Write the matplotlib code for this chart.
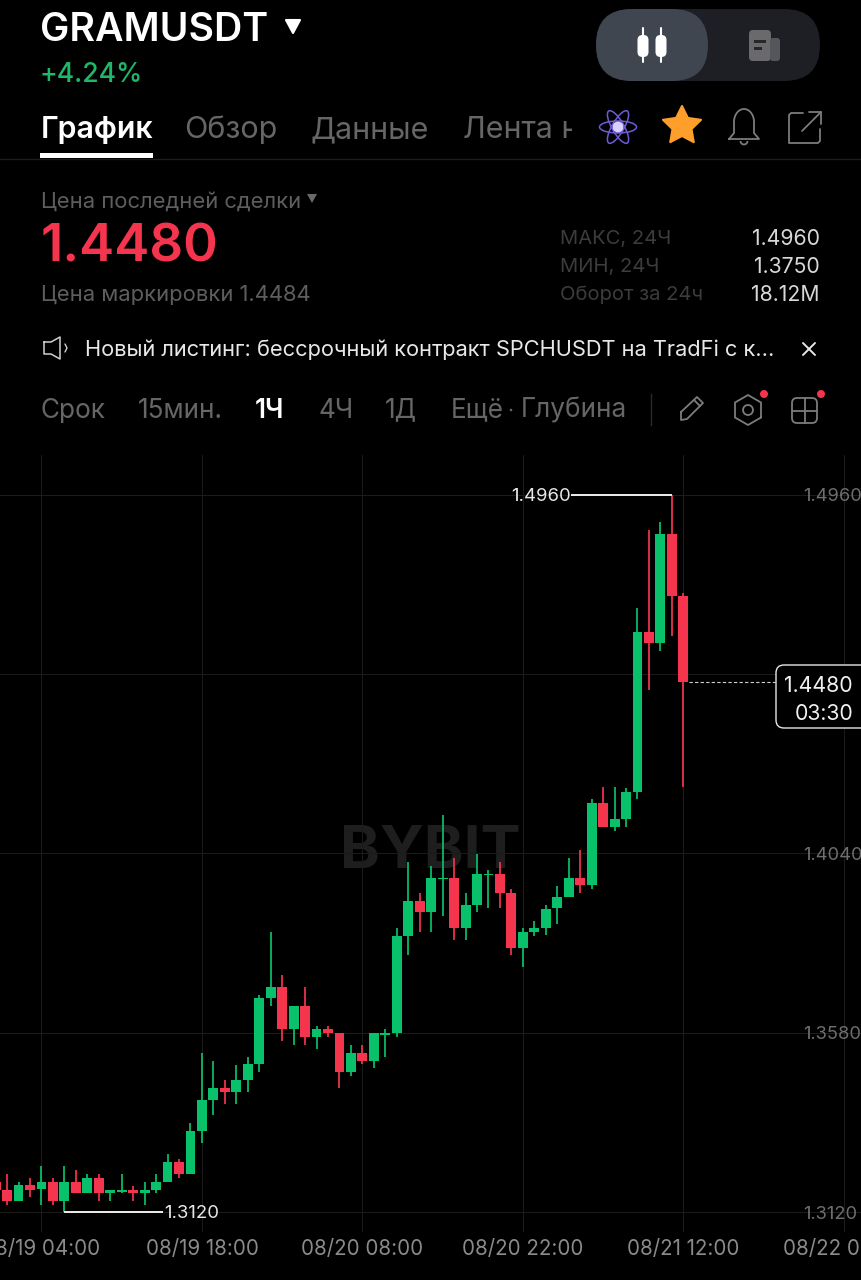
import numpy as np
import matplotlib
matplotlib.use("Agg")
import matplotlib.pyplot as plt
from matplotlib.patches import FancyBboxPatch, Polygon, Ellipse, Circle, Rectangle, Arc

plt.rcParams['font.family'] = ['Inter', 'DejaVu Sans']

# ---------- data ----------
hours = list(range(-4, 57))
opens = [1.3197,1.3176,1.3148,1.3189,1.3179,1.3197,1.3148,1.3197,1.3169,1.3207,1.3169,1.3171,1.3176,1.3169,1.3176,1.3197,1.3248,1.3218,1.3328,1.3407,1.3438,1.3428,1.3459,1.3500,1.3669,1.3697,1.3590,1.3649,1.3569,1.3590,1.3579,1.3479,1.3528,1.3507,1.3574,1.3579,1.3828,1.3918,1.3890,1.3974,1.3977,1.3849,1.3908,1.3985,1.3987,1.3939,1.3797,1.3838,1.3849,1.3900,1.3928,1.3977,1.3959,1.4169,1.4108,1.4128,1.4198,1.4608,1.4580,1.4860,1.4701]
highs = [1.3218,1.3218,1.3197,1.3207,1.3238,1.3207,1.3238,1.3228,1.3218,1.3218,1.3176,1.3218,1.3187,1.3197,1.3218,1.3269,1.3256,1.3348,1.3528,1.3507,1.3459,1.3497,1.3518,1.3677,1.3838,1.3728,1.3649,1.3697,1.3597,1.3597,1.3579,1.3549,1.3549,1.3579,1.3590,1.3849,1.4018,1.3939,1.4008,1.4139,1.4028,1.3939,1.4039,1.3998,1.4018,1.3949,1.3849,1.3867,1.3908,1.3957,1.4028,1.4049,1.4180,1.4211,1.4211,1.4208,1.4670,1.4870,1.4891,1.4960,1.4708]
lows = [1.3169,1.3138,1.3148,1.3158,1.3138,1.3138,1.3120,1.3169,1.3169,1.3148,1.3148,1.3169,1.3148,1.3138,1.3169,1.3197,1.3207,1.3218,1.3297,1.3369,1.3397,1.3397,1.3428,1.3479,1.3649,1.3559,1.3549,1.3549,1.3538,1.3569,1.3438,1.3469,1.3500,1.3490,1.3518,1.3569,1.3779,1.3838,1.3838,1.3880,1.3818,1.3818,1.3890,1.3900,1.3900,1.3779,1.3749,1.3828,1.3831,1.3859,1.3928,1.3939,1.3949,1.4108,1.4098,1.4108,1.4180,1.4459,1.4560,1.4598,1.4211]
closes = [1.3176,1.3148,1.3189,1.3176,1.3197,1.3148,1.3197,1.3169,1.3207,1.3169,1.3176,1.3176,1.3169,1.3176,1.3197,1.3248,1.3218,1.3328,1.3407,1.3438,1.3428,1.3459,1.3500,1.3669,1.3697,1.3590,1.3649,1.3569,1.3590,1.3579,1.3479,1.3528,1.3507,1.3579,1.3579,1.3828,1.3918,1.3890,1.3977,1.3977,1.3849,1.3908,1.3987,1.3987,1.3939,1.3797,1.3838,1.3849,1.3898,1.3928,1.3977,1.3959,1.4169,1.4108,1.4128,1.4198,1.4608,1.4580,1.4860,1.4701,1.4480]
x_ticks = [0, 14, 28, 42, 56, 70]
x_labels = ['08/19 04:00', '08/19 18:00', '08/20 08:00', '08/20 22:00', '08/21 12:00', '08/22 02:00']
y_ticks = [1.3120, 1.3580, 1.4040, 1.4500, 1.4960]
y_labels = ['1.3120', '1.3580', '1.4040', '', '1.4960']
last_price = 1.4480
countdown = '03:30'

GREEN, RED = '#0AC16B', '#F5344E'
BG = '#000000'
W, H = 861, 1280
fs = lambda px: px * 0.72

fig = plt.figure(figsize=(W / 100, H / 100), dpi=100, facecolor=BG)

def pixel_axes(z):
    a = fig.add_axes([0, 0, 1, 1], zorder=z)
    a.set_xlim(0, W)
    a.set_ylim(H, 0)
    a.axis('off')
    return a

bg = pixel_axes(0)
bg.text(430, 852, 'BYBIT', color='#1e1e1e', fontsize=fs(60), weight='bold', ha='center', va='center')

# ---------- chart ----------
top_px, bot_px = 455, 1232
ax = fig.add_axes([0, 1 - bot_px / H, 1, (bot_px - top_px) / H], zorder=1)
ax.patch.set_alpha(0)
ax.set_xlim(-3.62, 71.5)
ax.set_ylim(1.3069, 1.5062)
for s in ax.spines.values():
    s.set_visible(False)
ax.set_xticks(x_ticks, x_labels)
ax.set_yticks(y_ticks, y_labels)
ax.grid(True, color='#1b1b1b', lw=0.75, zorder=0)
ax.set_axisbelow(True)
ax.tick_params(axis='x', length=0, pad=5, labelsize=fs(20.6), labelcolor='#8a8a8a')
ax.tick_params(axis='y', length=0, left=False, labelleft=False, labelright=True, pad=-42,
               labelsize=fs(18.3), labelcolor='#6e6e6e')
for lab in ax.get_xticklabels():
    lab.set_clip_on(False)

o, h, l, c = map(np.array, (opens, highs, lows, closes))
xs = np.array(hours)
cols = [GREEN if cc >= oo else RED for oo, cc in zip(o, c)]
ax.vlines(xs, l, h, colors=cols, lw=1.25, zorder=3)
ax.bar(xs, np.abs(c - o), bottom=np.minimum(o, c), width=0.86, color=cols, lw=0, zorder=4)

# max / min callouts and last-price line
imax, imin = int(np.argmax(h)), int(np.argmin(l))
ax.plot([xs[imax], 46.2], [h[imax]] * 2, color='white', lw=1.3, zorder=5, solid_capstyle='butt')
ax.annotate(f'{h[imax]:.4f}', (46.2, h[imax]), xytext=(0, -1.2), textcoords='offset points',
            color='#e8e8e8', fontsize=fs(18.5), ha='right', va='center')
ax.plot([xs[imin], 10.6], [l[imin]] * 2, color='white', lw=1.3, zorder=5, solid_capstyle='butt')
ax.annotate(f'{l[imin]:.4f}', (10.7, l[imin]), xytext=(0, -1.2), textcoords='offset points',
            color='#e8e8e8', fontsize=fs(18.5), ha='left', va='center')
ax.plot([xs[-1] + 0.5, 64.0], [last_price] * 2, color='#cfcfcf', lw=0.8, ls=(0, (3, 2)), zorder=5)

# ---------- interface ----------
ui = pixel_axes(2)

def label(x, y, s, size, color, weight='normal', ha='left', **kw):
    return ui.text(x, y + size * 0.1, s, color=color, fontsize=fs(size), weight=weight, ha=ha, va='center', **kw)

def stroke(xs_, ys_, color='#8a8a8a', lw=1.3):
    ui.plot(xs_, ys_, color=color, lw=lw, solid_capstyle='round', solid_joinstyle='round')

# price box
ui.add_patch(FancyBboxPatch((776, 665), 110, 63, boxstyle='round,pad=0,rounding_size=8',
                            fc=BG, ec='#e6e6e6', lw=1.0))
label(853, 684, f'{last_price:.4f}', 21.2, '#f0f0f0', ha='right')
label(853, 712, countdown, 21.2, '#f0f0f0', ha='right')

# header
label(39.5, 26.5, 'GRAMUSDT', 39.2, 'white', weight='semibold')
ui.add_patch(Polygon([[286, 20], [300, 20], [293, 33]], fc='white', ec='white', lw=1.5, joinstyle='round'))
label(40, 72, '+4.24%', 26.5, '#1DB868', weight='medium')

ui.add_patch(FancyBboxPatch((596, 9), 224, 72, boxstyle='round,pad=0,rounding_size=36', fc='#1E1F24', lw=0))
ui.add_patch(FancyBboxPatch((596, 9), 112, 72, boxstyle='round,pad=0,rounding_size=36', fc='#3F4650', lw=0))
for cx in (643, 661):
    stroke([cx, cx], [28, 62], 'white', 1.5)
    ui.add_patch(FancyBboxPatch((cx - 5.5, 35), 11, 22, boxstyle='round,pad=0,rounding_size=5', fc='white', lw=0))
ui.add_patch(FancyBboxPatch((749, 30), 22, 31, boxstyle='round,pad=0,rounding_size=4', fc='#6A6A6C', lw=0))
ui.add_patch(FancyBboxPatch((770, 38), 10, 23, boxstyle='round,pad=0,rounding_size=3', fc='#55565A', lw=0))
ui.add_patch(Rectangle((754, 40), 12, 2.5, fc='#26272B', lw=0))
ui.add_patch(Rectangle((754, 47), 8, 2.5, fc='#26272B', lw=0))

# tabs
label(41, 127, 'График', 30.3, 'white', weight='semibold')
label(184.5, 127, 'Обзор', 30.5, '#666666')
label(311, 127, 'Данные', 30.5, '#666666')
t = label(463, 127, 'Лента новостей', 30.5, '#666666')
t.set_clip_on(True)
t.set_clip_path(Rectangle((440, 100), 132, 60, transform=ui.transData))
ui.add_patch(Rectangle((40, 153), 113, 5, fc='white', lw=0))
ui.plot([0, W], [158.5, 158.5], color='#1c1c1c', lw=1)

# atom icon
for ang in (0, 60, 120):
    ui.add_patch(Ellipse((618, 127), 37, 12, angle=ang, fc='none', ec='#6E5BD8', lw=1.1))
ui.add_patch(Circle((618, 127), 5.5, fc='#D8D0FF', lw=0))

# star icon
ang = np.deg2rad(np.arange(10) * 36 - 90)
rad = np.where(np.arange(10) % 2 == 0, 20, 10)
ui.add_patch(Polygon(np.c_[682 + rad * np.cos(ang), 126 + rad * np.sin(ang)],
                     fc='#FF9F2B', ec='#FF9F2B', lw=1.5, joinstyle='round'))

# bell icon
GI = '#7c7c7c'
tb = np.linspace(np.pi, 2 * np.pi, 30)
stroke(np.r_[729, 734, 734 + 10 * (1 + np.cos(tb)), 754, 759, 729],
       np.r_[139, 133, 122 + 13 * np.sin(tb), 133, 139, 139], GI)
ui.add_patch(Arc((744, 141), 7, 7, theta1=0, theta2=180, ec=GI, lw=1.3))

# share icon
stroke([803, 791, 789, 789, 818, 820, 820], [113, 113, 115, 143, 143, 141, 129], GI)
stroke([802, 821], [131, 112], GI)
stroke([809, 821, 821], [112, 112, 124], GI)

# price panel
label(41, 200, 'Цена последней сделки', 22, '#5e5e5e')
ui.add_patch(Polygon([[307, 194], [317, 194], [312, 203]], fc='#6a6a6a', lw=0))
label(41, 243, f'{last_price:.4f}', 52.7, RED, weight='semibold')
label(41, 293, 'Цена маркировки 1.4484', 22, '#5e5e5e')
for yy, a_, b_ in [(237, 'МАКС, 24Ч', '1.4960'), (265, 'МИН, 24Ч', '1.3750'), (293, 'Оборот за 24ч', '18.12M')]:
    label(560, yy, a_, 20.2, '#3c3c3c')
    label(820, yy, b_, 21.2, '#d8d8d8', ha='right')

# notice
stroke([44, 51, 60, 60, 51, 44, 44], [342, 342, 337, 359, 354, 354, 342], '#d0d0d0', 1.1)
stroke([65, 67, 65], [344, 348, 352], '#d0d0d0', 1.0)
label(85, 348, 'Новый листинг: бессрочный контракт SPCHUSDT на TradFi с к...', 21.85, '#e8e8e8')
stroke([803, 815], [343, 355], '#e8e8e8', 1.4)
stroke([815, 803], [343, 355], '#e8e8e8', 1.4)

# period row
label(41, 408, 'Срок', 26.2, '#666666')
label(138, 408, '15мин.', 26.2, '#666666')
label(255, 408, '1Ч', 26.2, 'white', weight='semibold')
label(318, 408, '4Ч', 26.2, '#666666')
label(385, 408, '1Д', 26.2, '#666666')
label(451, 408, 'Ещё', 26.2, '#666666')
label(521, 408, 'Глубина', 26.2, '#666666')
ui.add_patch(Circle((511, 410), 1.3, fc='#666666', lw=0))
ui.plot([651, 651], [394, 425], color='#2a2a2a', lw=1)

# pencil
stroke([681, 697, 703, 687, 681, 681], [412, 397, 403, 419, 420, 412], GI)
stroke([694, 700], [400, 406], GI)
# hexagon
ang = np.deg2rad(np.arange(7) * 60 + 30)
stroke(748 + 15 * np.cos(ang), 410 + 15 * np.sin(ang), GI)
ui.add_patch(Circle((748, 410), 5, fc='none', ec=GI, lw=1.3))
ui.add_patch(Circle((764, 394), 4, fc=RED, lw=0))
# grid
ui.add_patch(FancyBboxPatch((792, 398), 25, 25, boxstyle='round,pad=0,rounding_size=5', fc='none', ec=GI, lw=1.3))
stroke([804.5, 804.5], [398, 423], GI)
stroke([792, 817], [410.5, 410.5], GI)
ui.add_patch(Circle((821, 394), 4, fc=RED, lw=0))

fig.savefig('out.png', dpi=100, facecolor=BG)
